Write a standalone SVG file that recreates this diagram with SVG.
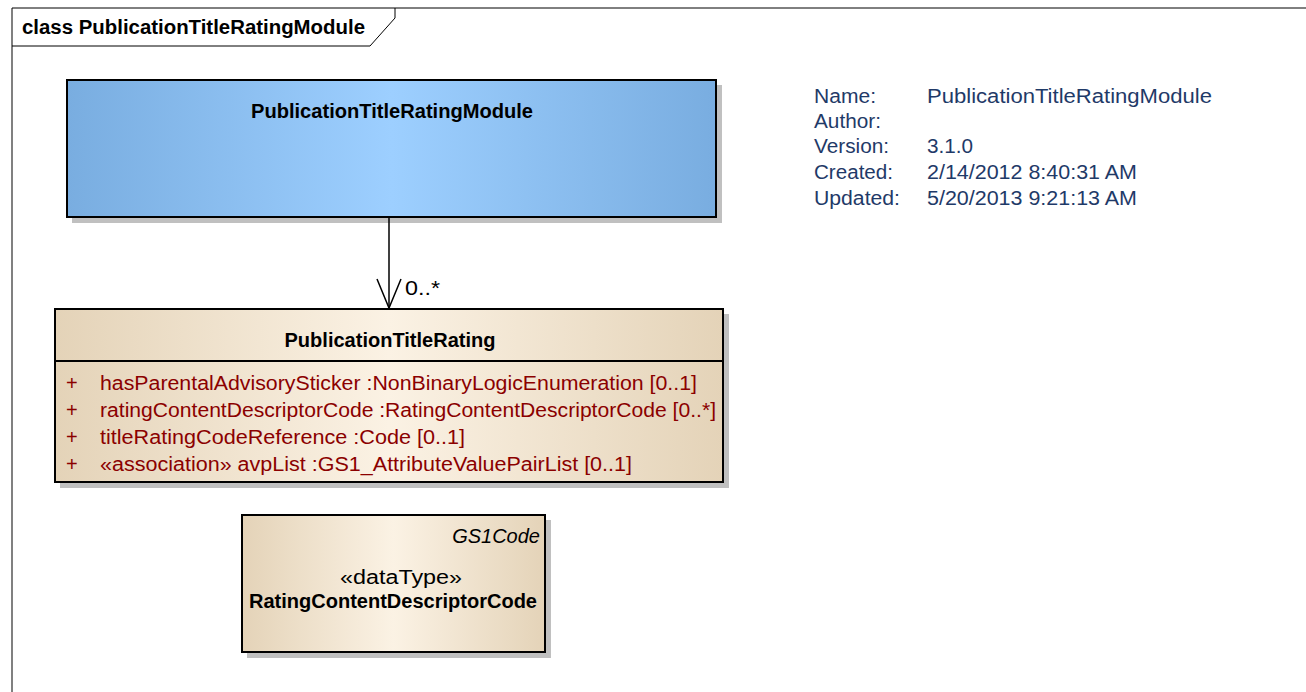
<svg xmlns="http://www.w3.org/2000/svg" width="1306" height="692" viewBox="0 0 1306 692">
<style>
text{font-family:"Liberation Sans",Arial,sans-serif;}
.hdr{font-size:20px;font-weight:bold;fill:#000;}
.name{font-size:20px;font-weight:bold;fill:#000;text-anchor:middle;}
.attr{font-size:20px;fill:#8b0000;}
.info{font-size:20px;fill:#1f3a68;}
.box{stroke:#000;stroke-width:2;}
.shadow{fill:#c0c0c0;}
</style>
<defs>
<linearGradient id="blue" x1="0" y1="0" x2="1" y2="0">
<stop offset="0" stop-color="#79ade0"/>
<stop offset="0.5" stop-color="#9dcfff"/>
<stop offset="1" stop-color="#79ade0"/>
</linearGradient>
<linearGradient id="beige" x1="0" y1="0" x2="1" y2="0">
<stop offset="0" stop-color="#e4d3b8"/>
<stop offset="0.5" stop-color="#fbf2e4"/>
<stop offset="1" stop-color="#e4d3b8"/>
</linearGradient>
</defs>
<rect width="1306" height="692" fill="#fff"/>
<g id="frame">
<path d="M12,692 V8" fill="none" stroke="#808080" stroke-width="2"/>
<path d="M12,8 H1306" fill="none" stroke="#000" stroke-width="1"/>
<path d="M12,46 H370 L395,18 V8" fill="none" stroke="#000" stroke-width="1"/>
<text class="hdr" x="22" y="34" textLength="343" lengthAdjust="spacingAndGlyphs">class PublicationTitleRatingModule</text>
</g>
<g id="info">
<text class="info" x="814" y="103" textLength="62" lengthAdjust="spacingAndGlyphs">Name:</text>
<text class="info" x="927" y="103" textLength="285" lengthAdjust="spacingAndGlyphs">PublicationTitleRatingModule</text>
<text class="info" x="814" y="128" textLength="67" lengthAdjust="spacingAndGlyphs">Author:</text>
<text class="info" x="814" y="153" textLength="75" lengthAdjust="spacingAndGlyphs">Version:</text>
<text class="info" x="927" y="153" textLength="46" lengthAdjust="spacingAndGlyphs">3.1.0</text>
<text class="info" x="814" y="179" textLength="79" lengthAdjust="spacingAndGlyphs">Created:</text>
<text class="info" x="927" y="179" textLength="210" lengthAdjust="spacingAndGlyphs">2/14/2012 8:40:31 AM</text>
<text class="info" x="814" y="205" textLength="86" lengthAdjust="spacingAndGlyphs">Updated:</text>
<text class="info" x="927" y="205" textLength="210" lengthAdjust="spacingAndGlyphs">5/20/2013 9:21:13 AM</text>
</g>
<g id="PublicationTitleRatingModule">
<rect class="shadow" x="72" y="85" width="650" height="138"/>
<rect class="box" x="67" y="80" width="649" height="137" fill="url(#blue)"/>
<text class="name" x="392" y="118" textLength="282" lengthAdjust="spacingAndGlyphs">PublicationTitleRatingModule</text>
</g>
<g id="PublicationTitleRating">
<rect class="shadow" x="60" y="314" width="669" height="174"/>
<rect class="box" x="55" y="309" width="668" height="173" fill="url(#beige)"/>
<line x1="55" y1="361" x2="723" y2="361" stroke="#000" stroke-width="2"/>
<text class="name" x="390" y="347" textLength="211" lengthAdjust="spacingAndGlyphs">PublicationTitleRating</text>
<text class="attr" x="66" y="390">+</text>
<text class="attr" x="100" y="390" textLength="597" lengthAdjust="spacingAndGlyphs">hasParentalAdvisorySticker  :NonBinaryLogicEnumeration [0..1]</text>
<text class="attr" x="66" y="417">+</text>
<text class="attr" x="100" y="417" textLength="616" lengthAdjust="spacingAndGlyphs">ratingContentDescriptorCode  :RatingContentDescriptorCode [0..*]</text>
<text class="attr" x="66" y="444">+</text>
<text class="attr" x="100" y="444" textLength="365" lengthAdjust="spacingAndGlyphs">titleRatingCodeReference  :Code [0..1]</text>
<text class="attr" x="66" y="471">+</text>
<text class="attr" x="100" y="471" textLength="532" lengthAdjust="spacingAndGlyphs">«association» avpList  :GS1_AttributeValuePairList [0..1]</text>
</g>
<g id="RatingContentDescriptorCode">
<rect class="shadow" x="247" y="520" width="304" height="138"/>
<rect class="box" x="242" y="515" width="303" height="137" fill="url(#beige)"/>
<text x="540" y="543" style="font-size:20px;font-style:italic;text-anchor:end;fill:#000;">GS1Code</text>
<text x="401" y="584" textLength="122" lengthAdjust="spacingAndGlyphs" style="font-size:20px;text-anchor:middle;fill:#000;">«dataType»</text>
<text class="name" x="393" y="608" textLength="288" lengthAdjust="spacingAndGlyphs">RatingContentDescriptorCode</text>
</g>
<g id="connectors">
<line x1="389" y1="218" x2="389" y2="308" stroke="#000" stroke-width="1.5"/>
<path d="M377,279 L389,308 L401,279" fill="none" stroke="#000" stroke-width="1.5"/>
<text x="405" y="295" textLength="35" lengthAdjust="spacingAndGlyphs" style="font-size:20px;fill:#000;">0..*</text>
</g>
</svg>
